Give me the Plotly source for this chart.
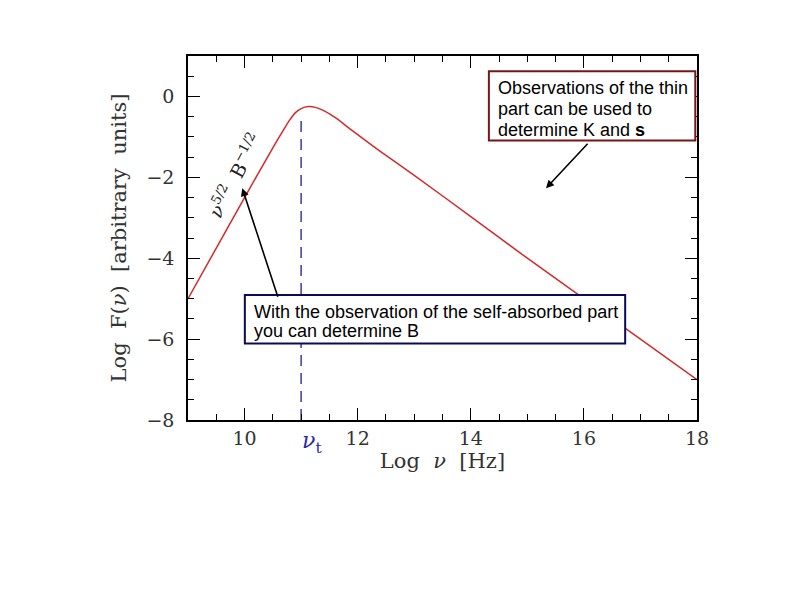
import plotly.graph_objects as go

# Spectrum (log nu [Hz], log F)
log_nu = [9.0, 9.5, 10.0, 10.5, 10.7, 10.8, 10.9, 11.0, 11.13, 11.25, 11.4, 11.6,
          11.9, 12.4, 13.0, 14.0, 15.0, 16.0, 17.0, 18.0]
log_F = [-5.0, -3.75, -2.5, -1.27, -0.8, -0.58, -0.40, -0.30, -0.25, -0.27, -0.35, -0.52,
         -0.84, -1.36, -1.95, -2.97, -4.0, -5.0, -6.0, -7.0]

nu_t = 11.0
nu_t_line_y = [-8.0, -0.45]

x_ticks = [10, 12, 14, 16, 18]
y_ticks = [-8, -6, -4, -2, 0]

red_box_lines = ["Observations of the thin", "part can be used to", "determine K and <b>s</b>"]
blue_box_lines = ["With the observation of the self-absorbed part", "you can determine B"]

fig = go.Figure()
fig.add_trace(go.Scatter(x=log_nu, y=log_F, mode="lines",
                         line=dict(color="#d42a2a", width=1.5, shape="spline", smoothing=0.6),
                         hoverinfo="skip", showlegend=False))
fig.add_trace(go.Scatter(x=[nu_t, nu_t], y=nu_t_line_y, mode="lines",
                         line=dict(color="#3a3aa8", width=1.5, dash="11px,7px"),
                         hoverinfo="skip", showlegend=False))

serif = "DejaVu Serif"
axis_common = dict(showline=True, linecolor="black", linewidth=1.5, mirror="allticks",
                   ticks="inside", ticklen=12, tickwidth=1.2, tickcolor="black",
                   showgrid=False, zeroline=False,
                   tickfont=dict(family=serif, size=19, color="#333"),
                   minor=dict(dtick=0.5, ticks="inside", ticklen=6, tickwidth=1.2, tickcolor="black"))

fig.update_xaxes(range=[9, 18], tickvals=x_ticks, ticktext=[str(v) for v in x_ticks],
                 title=dict(text="Log  <i>ν</i>  [Hz]", font=dict(family=serif, size=21, color="#333"), standoff=4),
                 ticklabelstandoff=0, **axis_common)
fig.update_yaxes(range=[-8, 1], tickvals=y_ticks, ticktext=[("−" + str(-v)) if v < 0 else str(v) for v in y_ticks],
                 title=dict(text="Log  F(<i>ν</i>)  [arbitrary  units]", font=dict(family=serif, size=21, color="#333"), standoff=14),
                 ticklabelstandoff=8, **axis_common)

# boxes
fig.add_shape(type="rect", x0=14.32, x1=17.97, y0=-1.09, y1=0.62,
              line=dict(color="#7a1515", width=2), fillcolor="white", layer="above")
fig.add_shape(type="rect", x0=10.005, x1=16.73, y0=-6.11, y1=-4.91,
              line=dict(color="#0a0a5a", width=2), fillcolor="white", layer="above")

sans = "Liberation Sans"
red_y = [0.22, -0.30, -0.82]
for line, yy in zip(red_box_lines, red_y):
    fig.add_annotation(x=14.45, y=yy, xref="x", yref="y", xanchor="left", yanchor="middle",
                       text=line, align="left", showarrow=False,
                       font=dict(family=sans, size=18, color="black"))
blue_y = [-5.32, -5.81]
for line, yy in zip(blue_box_lines, blue_y):
    fig.add_annotation(x=10.13, y=yy, xref="x", yref="y", xanchor="left", yanchor="middle",
                       text=line, align="left", showarrow=False,
                       font=dict(family=sans, size=18, color="black"))

# arrows
fig.add_annotation(x=15.33, y=-2.27, ax=43, ay=-46, axref="pixel", ayref="pixel",
                   text="", showarrow=True, arrowhead=2, arrowsize=1, arrowwidth=1.6, arrowcolor="black")
fig.add_annotation(x=9.96, y=-2.27, ax=36, ay=110, axref="pixel", ayref="pixel",
                   text="", showarrow=True, arrowhead=2, arrowsize=1, arrowwidth=1.6, arrowcolor="black")

# labels
fig.add_annotation(x=9.82, y=-1.93, text="<i>ν</i><sup>5/2</sup>  B<sup>−1/2</sup>", textangle=-62,
                   showarrow=False, font=dict(family=serif, size=19, color="#222"))
fig.add_annotation(x=nu_t, y=-8, yref="y", text="<i>ν</i><sub>t</sub>", showarrow=False,
                   yanchor="top", yshift=-6, xshift=11, font=dict(family=serif, size=22, color="#2a2aa8"))

fig.update_layout(width=794, height=595, margin=dict(l=180, r=105, t=48, b=183),
                  plot_bgcolor="white", paper_bgcolor="white", showlegend=False)

fig.write_html("out.html")
